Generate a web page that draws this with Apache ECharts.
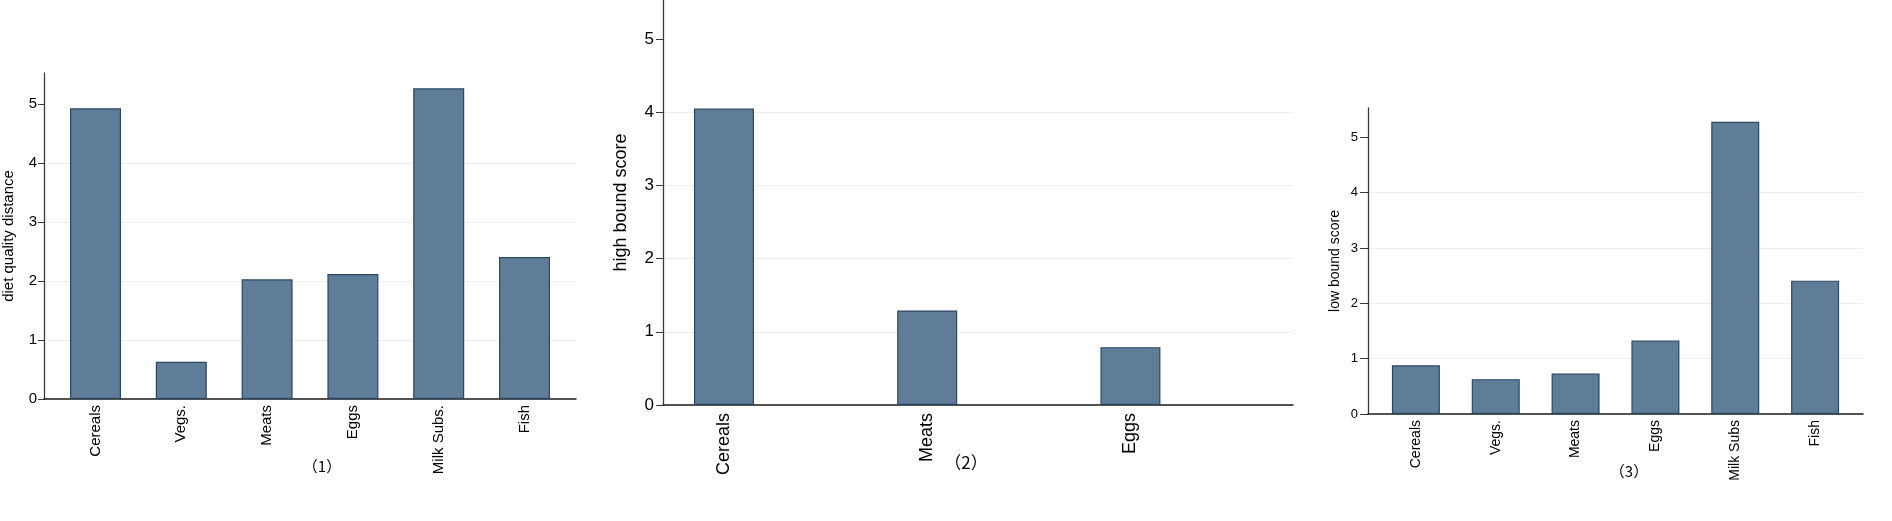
<!DOCTYPE html>
<html>
<head>
<meta charset="utf-8">
<script src="https://cdn.jsdelivr.net/npm/echarts@6/dist/echarts.min.js"></script>
<style>
html,body{margin:0;padding:0;background:#fff;}
#chart{width:1892px;height:521px;}
</style>
</head>
<body>
<div id="chart"></div>
<script>
// ---- data ----
const cats1 = ['Cereals', 'Vegs.', 'Meats', 'Eggs', 'Milk Subs.', 'Fish'];
const dietDistance = [4.93, 0.63, 2.03, 2.12, 5.27, 2.41];

const cats2 = ['Cereals', 'Meats', 'Eggs'];
const highBound = [4.05, 1.29, 0.79];

const cats3 = ['Cereals', 'Vegs.', 'Meats', 'Eggs', 'Milk Subs', 'Fish'];
const lowBound = [0.88, 0.63, 0.73, 1.33, 5.28, 2.41];

const yTicks = [0, 1, 2, 3, 4, 5];
const yNames = ['diet quality distance', 'high bound score', 'low bound score'];
const panelLabels = ['（1）', '（2）', '（3）'];

// ---- styles ----
const FONT = 'Liberation Sans, Arial, sans-serif';
const BAR_FILL = '#5f7c98';
const BAR_EDGE = '#2c4763';
const GRID_LINE = '#e8eef1';

function idx(n) { return Array.from({length: n}, (_, i) => i); }

const panels = [
  {cats: cats1, vals: dietDistance, name: yNames[0],
   grid: {left: 40, top: 73, width: 536, height: 326},
   xr: [-0.6, 5.6], barW: 51, tickFs: 15, catFs: 15, nameFs: 15, nameGap: 28, lblMargin: 7, tickLen: 6, catMargin: 6},
  {cats: cats2, vals: highBound, name: yNames[1],
   grid: {left: 663, top: 0, width: 630, height: 405},
   xr: [-0.3, 2.8], barW: 60, tickFs: 17, catFs: 18, nameFs: 18, nameGap: 33, lblMargin: 9, tickLen: 7, catMargin: 8},
  {cats: cats3, vals: lowBound, name: yNames[2],
   grid: {left: 1368, top: 108, width: 495, height: 306},
   xr: [-0.6, 5.6], barW: 48, tickFs: 13, catFs: 14, nameFs: 14, nameGap: 26, lblMargin: 10, tickLen: 8, catMargin: 6}
];

const option = {
  backgroundColor: '#fff',
  animation: false,
  grid: [], xAxis: [], yAxis: [], series: [],
  graphic: []
};

panels.forEach((p, i) => {
  option.grid.push(Object.assign({containLabel: false}, p.grid));
  const cats = p.cats;
  option.xAxis.push({
    type: 'value', gridIndex: i, min: p.xr[0], max: p.xr[1],
    axisLine: {show: true, onZero: false, lineStyle: {color: '#1a1a1a', width: 1.5}},
    axisTick: {show: false},
    splitLine: {show: false},
    axisLabel: {
      show: true,
      customValues: idx(cats.length),
      rotate: 90, margin: p.catMargin,
      fontFamily: FONT, fontSize: p.catFs, color: '#000',
      formatter: v => (Number.isInteger(v) && cats[v] !== undefined) ? cats[v] : ''
    }
  });
  option.yAxis.push({
    type: 'value', gridIndex: i, min: 0, max: 5.53,
    name: p.name, nameLocation: 'middle', nameGap: p.nameGap, nameRotate: 90,
    nameTextStyle: {fontFamily: FONT, fontSize: p.nameFs, color: '#000'},
    axisLine: {show: true, onZero: false, lineStyle: {color: '#3a3a3a', width: 1.3}},
    axisTick: {show: true, length: p.tickLen, customValues: yTicks, lineStyle: {color: '#3a3a3a', width: 1}},
    axisLabel: {customValues: yTicks, margin: p.lblMargin, fontFamily: FONT, fontSize: p.tickFs, color: '#000'},
    splitLine: {show: true, showMaxLine: false, showMinLine: false, lineStyle: {color: GRID_LINE, width: 1.2}}
  });
  option.series.push({
    type: 'bar', xAxisIndex: i, yAxisIndex: i,
    barWidth: p.barW,
    itemStyle: {color: BAR_FILL, borderColor: BAR_EDGE, borderWidth: 1.2},
    data: p.vals.map((v, k) => [k, v])
  });
});

const labelPos = [[322, 466, 15], [966, 463, 17], [1629, 471, 15]];
panelLabels.forEach((t, i) => {
  option.graphic.push({
    type: 'text', x: labelPos[i][0], y: labelPos[i][1],
    style: {text: t, fontFamily: 'Noto Sans CJK SC', fontSize: labelPos[i][2], fill: '#000',
            textAlign: 'center', textVerticalAlign: 'middle'}
  });
});

const chart = echarts.init(document.getElementById('chart'), null, {renderer: 'canvas'});
chart.setOption(option);
</script>
</body>
</html>
